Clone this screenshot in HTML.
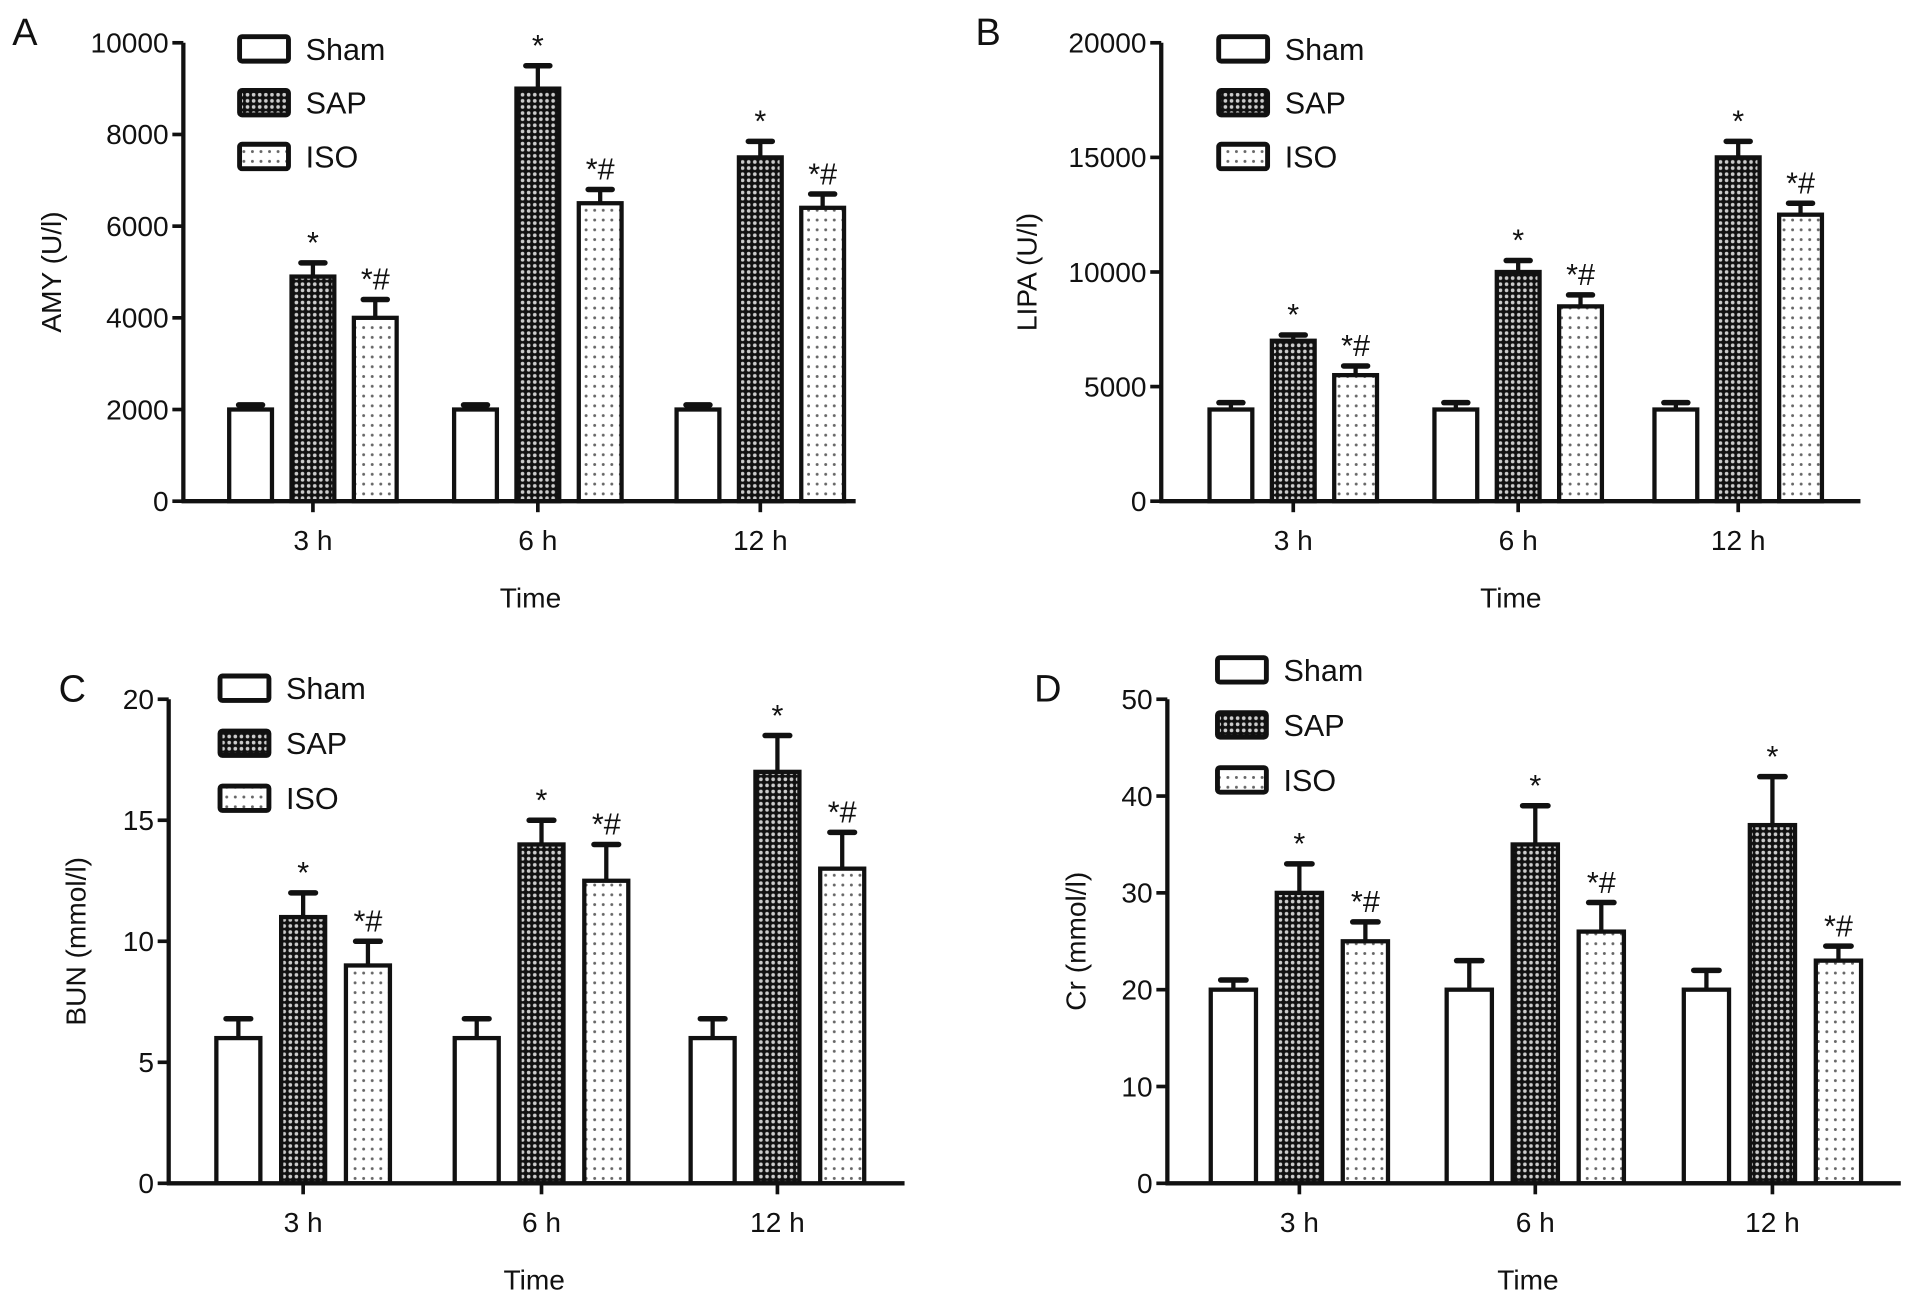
<!DOCTYPE html>
<html><head><meta charset="utf-8"><style>
html,body{margin:0;padding:0;background:#fff;}
svg{display:block;}
text{font-family:"Liberation Sans",Arial,sans-serif;fill:#111;}
</style></head><body>
<svg id="fig" width="1913" height="1308" viewBox="0 0 1565 1070" preserveAspectRatio="none" xmlns="http://www.w3.org/2000/svg">
<defs>
<pattern id="pSAP" width="5" height="5" patternUnits="userSpaceOnUse">
<rect width="5" height="5" fill="#111"/><circle cx="2.5" cy="2.5" r="1.5" fill="#ccc"/>
</pattern>
<pattern id="pISO" width="7" height="8" patternUnits="userSpaceOnUse">
<rect width="7" height="8" fill="#fff"/><circle cx="3.5" cy="4" r="1.2" fill="#666"/>
</pattern>
</defs>
</svg>
<script>
const categories = ["3 h","6 h","12 h"];
const seriesNames = ["Sham","SAP","ISO"];
// Panel A: AMY
const aSham = [2000,2000,2000], aShamErr = [100,100,100];
const aSAP = [4900,9000,7500], aSAPErr = [300,500,350];
const aISO = [4000,6500,6400], aISOErr = [400,300,300];
const aTicks = [0,2000,4000,6000,8000,10000];
// Panel B: LIPA
const bSham = [4000,4000,4000], bShamErr = [300,300,300];
const bSAP = [7000,10000,15000], bSAPErr = [250,500,700];
const bISO = [5500,8500,12500], bISOErr = [400,500,500];
const bTicks = [0,5000,10000,15000,20000];
// Panel C: BUN
const cSham = [6,6,6], cShamErr = [0.8,0.8,0.8];
const cSAP = [11,14,17], cSAPErr = [1,1,1.5];
const cISO = [9,12.5,13], cISOErr = [1,1.5,1.5];
const cTicks = [0,5,10,15,20];
// Panel D: Cr
const dSham = [20,20,20], dShamErr = [1,3,2];
const dSAP = [30,35,37], dSAPErr = [3,4,5];
const dISO = [25,26,23], dISOErr = [2,3,1.5];
const dTicks = [0,10,20,30,40,50];
const annSAP = ["*","*","*"];
const annISO = ["*#","*#","*#"];

const NS = "http://www.w3.org/2000/svg";
const svg = document.getElementById("fig");
function mk(tag, attrs, parent, txt){
  const e = document.createElementNS(NS, tag);
  for (const k in attrs) e.setAttribute(k, attrs[k]);
  if (txt !== undefined) e.textContent = txt;
  (parent || svg).appendChild(e);
  return e;
}
function panel(cfg){
  const g = mk("g", {});
  
  
  const ymax = cfg.ticks[cfg.ticks.length-1];
  const y = v => cfg.y0 - (v / ymax) * (cfg.y0 - cfg.yTop);
  const sw = 3.5;
  const L = mk("text", {x: cfg.lx, y: cfg.ly, "font-size": 31}, g, cfg.letter);
  
  
  const series = [[cfg.sham, cfg.shamErr, "#fff"], [cfg.sap, cfg.sapErr, "url(#pSAP)"], [cfg.iso, cfg.isoErr, "url(#pISO)"]];
  categories.forEach((c, i) => {
    const cx = cfg.centers[i];
    series.forEach((s, j) => {
      const bx = cx + (j - 1) * cfg.sp - cfg.bw / 2;
      const top = y(s[0][i]);
      const etop = y(s[0][i] + s[1][i]);
      const mx = bx + cfg.bw / 2;
      const el = mk("line", {x1: mx, x2: mx, y1: top, y2: etop, stroke: "#111", "stroke-width": sw}, g);
      
      
      const cap = mk("line", {x1: mx - cfg.bw * 0.28, x2: mx + cfg.bw * 0.28, y1: etop, y2: etop, stroke: "#111", "stroke-width": sw + 1, "stroke-linecap": "round"}, g);
      
      
      const r = mk("rect", {x: bx, y: top, width: cfg.bw, height: cfg.y0 - top, fill: s[2], stroke: "#111", "stroke-width": sw}, g);
      
      
      if (j > 0) {
        const lab = j === 1 ? annSAP[i] : annISO[i];
        const t = mk("text", {x: mx, y: etop - 8, "font-size": 25, "text-anchor": "middle"}, g, lab);
        
        
      }
    });
    const tk = mk("line", {x1: cx, x2: cx, y1: cfg.y0, y2: cfg.y0 + 9, stroke: "#111", "stroke-width": 3}, g);
    
    
    const tl = mk("text", {x: cx, y: cfg.y0 + 40, "font-size": 23, "text-anchor": "middle"}, g, c);
    
    
  });
  const ya = mk("line", {x1: cfg.ax, x2: cfg.ax, y1: cfg.yTop, y2: cfg.y0 + 1.5, stroke: "#111", "stroke-width": sw}, g);
  
  
  const xa = mk("line", {x1: cfg.ax - 1.5, x2: cfg.xEnd, y1: cfg.y0, y2: cfg.y0, stroke: "#111", "stroke-width": sw}, g);
  
  
  cfg.ticks.forEach(v => {
    const t = mk("line", {x1: cfg.ax - 9, x2: cfg.ax, y1: y(v), y2: y(v), stroke: "#111", "stroke-width": 3}, g);
    
    
    const tl = mk("text", {x: cfg.ax - 12, y: y(v) + 8, "font-size": 23, "text-anchor": "end"}, g, String(v));
    
    
  });
  const yt = mk("text", {x: 0, y: 0, "font-size": 23, "text-anchor": "middle", transform: `translate(${cfg.ytx},${(cfg.y0 + cfg.yTop) / 2}) rotate(-90)`}, g, cfg.ylabel);
  
  
  const xt = mk("text", {x: cfg.centers[1] - 6, y: cfg.y0 + 87, "font-size": 23, "text-anchor": "middle"}, g, "Time");
  
  
  const fills = ["#fff", "url(#pSAP)", "url(#pISO)"];
  seriesNames.forEach((n, j) => {
    const ry = cfg.legY + j * cfg.legDy;
    const lr = mk("rect", {x: cfg.legX, y: ry - 10, width: 40, height: 20, rx: 2, fill: fills[j], stroke: "#111", "stroke-width": 4}, g);
    
    
    const lt = mk("text", {x: cfg.legX + 54, y: ry + 9, "font-size": 25}, g, n);
    
    
  });
}
panel({letter:"A", lx:10, ly:37, ax:150, yTop:35, y0:410, xEnd:700, centers:[256,440,622], sp:51, bw:35,
  ticks:aTicks, sham:aSham, shamErr:aShamErr, sap:aSAP, sapErr:aSAPErr, iso:aISO, isoErr:aISOErr,
  ylabel:"AMY (U/l)", ytx:50, legX:196, legY:40, legDy:44});
panel({letter:"B", lx:798, ly:37, ax:950, yTop:35, y0:410, xEnd:1522, centers:[1058,1242,1422], sp:51, bw:35,
  ticks:bTicks, sham:bSham, shamErr:bShamErr, sap:bSAP, sapErr:bSAPErr, iso:bISO, isoErr:bISOErr,
  ylabel:"LIPA (U/l)", ytx:848, legX:997, legY:40, legDy:44});
panel({letter:"C", lx:48, ly:574, ax:138, yTop:572, y0:968, xEnd:740, centers:[248,443,636], sp:53, bw:36,
  ticks:cTicks, sham:cSham, shamErr:cShamErr, sap:cSAP, sapErr:cSAPErr, iso:cISO, isoErr:cISOErr,
  ylabel:"BUN (mmol/l)", ytx:70, legX:180, legY:563, legDy:45});
panel({letter:"D", lx:846, ly:574, ax:955, yTop:572, y0:968, xEnd:1555, centers:[1063,1256,1450], sp:54, bw:37,
  ticks:dTicks, sham:dSham, shamErr:dShamErr, sap:dSAP, sapErr:dSAPErr, iso:dISO, isoErr:dISOErr,
  ylabel:"Cr (mmol/l)", ytx:888, legX:996, legY:548, legDy:45});
</script>
</body></html>
